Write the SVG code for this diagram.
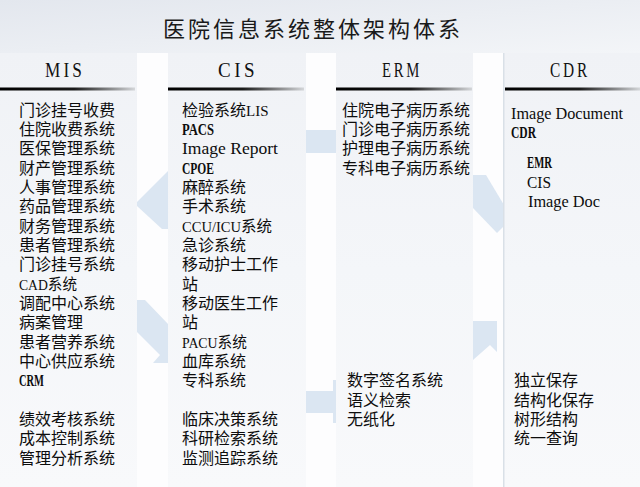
<svg xmlns="http://www.w3.org/2000/svg" width="640" height="487" viewBox="0 0 640 487">
<defs>
<linearGradient id="bgTop" x1="0" y1="0" x2="1" y2="1">
<stop offset="0" stop-color="#e3e7ee"/>
<stop offset="1" stop-color="#f3f5f8"/>
</linearGradient>
<linearGradient id="panel" x1="0" y1="0" x2="0" y2="1">
<stop offset="0" stop-color="#f0f2f6"/>
<stop offset="0.5" stop-color="#f4f6f9"/>
<stop offset="1" stop-color="#f8f9fb"/>
</linearGradient>
<linearGradient id="rule" x1="0" y1="0" x2="1" y2="0">
<stop offset="0" stop-color="#000"/>
<stop offset="0.55" stop-color="#1a1a1a"/>
<stop offset="1" stop-color="#d4d6d9"/>
</linearGradient>
<style>
.panel{fill:url(#panel)}
.rule{fill:url(#rule)}
.arrow{fill:#dbe6f2}
.t{font-family:"Liberation Serif","Noto Sans CJK SC",serif;font-size:16px;fill:#0d0d0d}
.c{font-size:17px;font-weight:bold}
.l{font-size:15px}
.h{font-family:"Liberation Serif","Noto Sans CJK SC",serif;font-size:22px;fill:#111;letter-spacing:4px}
.title{font-family:"Noto Sans CJK SC","Liberation Serif",sans-serif;font-size:22px;fill:#1a1a1a;letter-spacing:3px}
</style>
</defs>
<rect x="0" y="0" width="640" height="487" fill="#fdfdfe"/>
<rect x="0" y="0" width="640" height="53" fill="url(#bgTop)"/>

<g id="connectors">
<polygon class="arrow" points="168,171 137,202 137,206 162,229 168,229"/>
<rect class="arrow" x="305" y="130" width="32" height="23"/>
<polygon class="arrow" points="137,300 145,300 168,324 168,363 153,363 160,355 137,332"/>
<rect class="arrow" x="305" y="391" width="30" height="22"/>
<rect class="arrow" x="333" y="380" width="4" height="43"/>
<polygon class="arrow" points="473,175 486,175 504,205 504,226 497,233 473,208"/>
<polygon class="arrow" points="473,321 497,321 497,352 490,345 473,360"/>
</g>

<text class="title" x="163" y="36.5">医院信息系统整体架构体系</text>

<g id="mis">
<rect class="panel" x="0" y="53" width="137" height="434"/>
<text class="h" x="45" y="77" textLength="40" lengthAdjust="spacingAndGlyphs">MIS</text>
<rect class="rule" x="0" y="87.5" width="135" height="3"/>
<text class="t" x="19" y="115.5">门诊挂号收费</text>
<text class="t" x="19" y="134.85">住院收费系统</text>
<text class="t" x="19" y="154.2">医保管理系统</text>
<text class="t" x="19" y="173.55">财产管理系统</text>
<text class="t" x="19" y="192.9">人事管理系统</text>
<text class="t" x="19" y="212.25">药品管理系统</text>
<text class="t" x="19" y="231.6">财务管理系统</text>
<text class="t" x="19" y="250.95">患者管理系统</text>
<text class="t" x="19" y="270.3">门诊挂号系统</text>
<text class="t" x="19" y="289.65" textLength="58" lengthAdjust="spacingAndGlyphs"><tspan class="l">CAD</tspan>系统</text>
<text class="t" x="19" y="309">调配中心系统</text>
<text class="t" x="19" y="328.35">病案管理</text>
<text class="t" x="19" y="347.7">患者营养系统</text>
<text class="t" x="19" y="367.05">中心供应系统</text>
<text class="t c" x="19" y="386.4" textLength="25" lengthAdjust="spacingAndGlyphs">CRM</text>
<text class="t" x="19" y="425.1">绩效考核系统</text>
<text class="t" x="19" y="444.45">成本控制系统</text>
<text class="t" x="19" y="463.8">管理分析系统</text>
</g>

<g id="cis">
<rect class="panel" x="168" y="53" width="138" height="434"/>
<text class="h" x="218" y="77" textLength="40" lengthAdjust="spacingAndGlyphs">CIS</text>
<rect class="rule" x="168" y="87.5" width="136" height="3"/>
<text class="t" x="182" y="115.5">检验系统<tspan class="l">LIS</tspan></text>
<text class="t c" x="182" y="134.85" textLength="32" lengthAdjust="spacingAndGlyphs">PACS</text>
<text class="t" x="182" y="154.2" textLength="96" lengthAdjust="spacingAndGlyphs">Image Report</text>
<text class="t c" x="182" y="173.55" textLength="32" lengthAdjust="spacingAndGlyphs">CPOE</text>
<text class="t" x="182" y="192.9">麻醉系统</text>
<text class="t" x="182" y="212.25">手术系统</text>
<text class="t" x="182" y="231.6" textLength="90" lengthAdjust="spacingAndGlyphs"><tspan class="l">CCU/ICU</tspan>系统</text>
<text class="t" x="182" y="250.95">急诊系统</text>
<text class="t" x="182" y="270.3">移动护士工作</text>
<text class="t" x="182" y="289.65">站</text>
<text class="t" x="182" y="309">移动医生工作</text>
<text class="t" x="182" y="328.35">站</text>
<text class="t" x="182" y="347.7" textLength="65" lengthAdjust="spacingAndGlyphs"><tspan class="l">PACU</tspan>系统</text>
<text class="t" x="182" y="367.05">血库系统</text>
<text class="t" x="182" y="386.4">专科系统</text>
<text class="t" x="182" y="425.1">临床决策系统</text>
<text class="t" x="182" y="444.45">科研检索系统</text>
<text class="t" x="182" y="463.8">监测追踪系统</text>
</g>

<g id="erm">
<rect class="panel" x="336" y="53" width="137" height="434"/>
<text class="h" x="382" y="77" textLength="40" lengthAdjust="spacingAndGlyphs">ERM</text>
<rect class="rule" x="336" y="87.5" width="136" height="3"/>
<text class="t" x="342" y="115.5">住院电子病历系统</text>
<text class="t" x="342" y="134.85">门诊电子病历系统</text>
<text class="t" x="342" y="154.2">护理电子病历系统</text>
<text class="t" x="342" y="173.55">专科电子病历系统</text>
<text class="t" x="347" y="386.4">数字签名系统</text>
<text class="t" x="347" y="405.75">语义检索</text>
<text class="t" x="347" y="425.1">无纸化</text>
</g>

<g id="cdr">
<rect class="panel" x="503" y="53" width="137" height="434"/>
<rect x="503" y="53" width="1.5" height="434" fill="#d9e0e7"/>
<text class="h" x="550" y="77" textLength="40" lengthAdjust="spacingAndGlyphs">CDR</text>
<rect class="rule" x="505" y="87.5" width="135" height="3"/>
<text class="t" x="511" y="119" textLength="112" lengthAdjust="spacingAndGlyphs">Image Document</text>
<text class="t c" x="511" y="138" textLength="25" lengthAdjust="spacingAndGlyphs">CDR</text>
<text class="t c" x="527" y="168" textLength="25" lengthAdjust="spacingAndGlyphs">EMR</text>
<text class="t" x="527" y="187.5" textLength="24" lengthAdjust="spacingAndGlyphs">CIS</text>
<text class="t" x="528" y="207" textLength="72" lengthAdjust="spacingAndGlyphs">Image Doc</text>
<text class="t" x="514" y="386.4">独立保存</text>
<text class="t" x="514" y="405.75">结构化保存</text>
<text class="t" x="514" y="425.1">树形结构</text>
<text class="t" x="514" y="444.45">统一查询</text>
</g>
</svg>
